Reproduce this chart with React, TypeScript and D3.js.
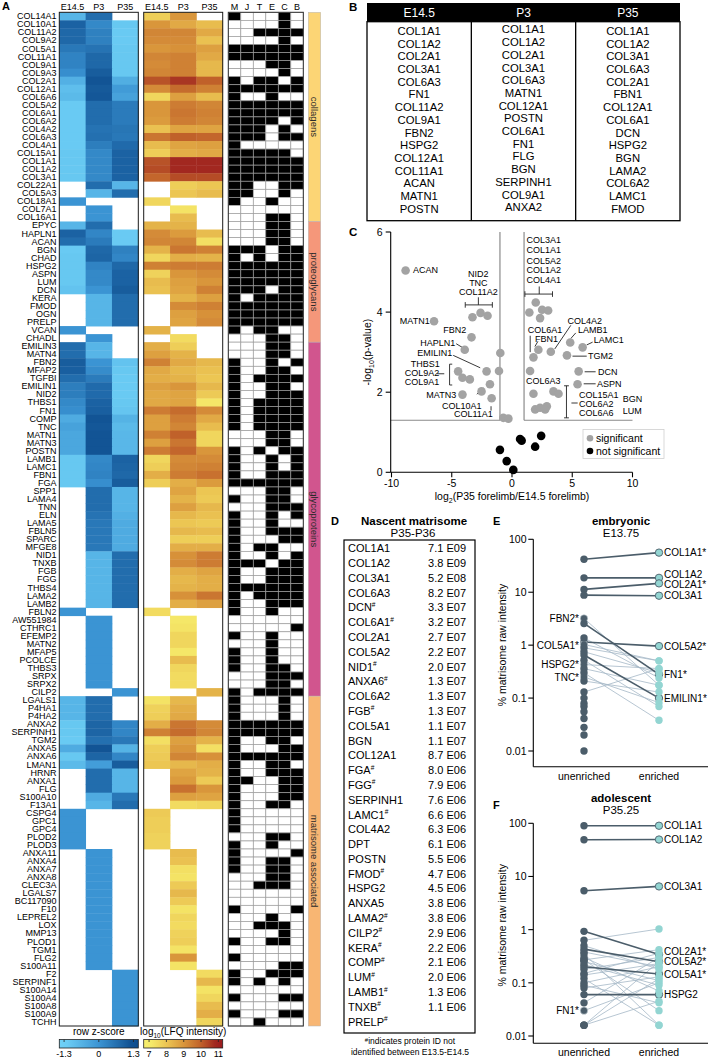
import React from "react";
import * as d3 from "d3";

const FONT = "'Liberation Sans', Arial, Helvetica, sans-serif";
const N = null;

// ---------------- Panel A data ----------------
const stages = ["E14.5", "P3", "P35"];
const sourceCols = ["M", "J", "T", "E", "C", "B"];
const groupNames = ["collagens", "proteoglycans", "glycoproteins", "matrisome associated"];
const groupSizes = [26, 15, 44, 41];

const genes = [
  "COL14A1","COL10A1","COL11A2","COL9A2","COL5A1","COL11A1","COL9A1","COL9A3","COL2A1","COL12A1","COL6A6","COL5A2","COL6A1","COL6A2","COL4A2","COL6A3","COL4A1","COL15A1","COL1A1","COL1A2","COL3A1","COL22A1","COL5A3","COL18A1","COL7A1","COL16A1",
  "EPYC","HAPLN1","ACAN","BGN","CHAD","HSPG2","ASPN","LUM","DCN","KERA","FMOD","OGN","PRELP","VCAN","CHADL",
  "EMILIN3","MATN4","FBN2","MFAP2","TGFBI","EMILIN1","NID2","THBS1","FN1","COMP","TNC","MATN1","MATN3","POSTN","LAMB1","LAMC1","FBN1","FGA","SPP1","LAMA4","TNN","ELN","LAMA5","FBLN5","SPARC","MFGE8","NID1","TNXB","FGB","FGG","THBS4","LAMA2","LAMB2","FBLN2","AW551984","CTHRC1","EFEMP2","MATN2","MFAP5","PCOLCE","THBS3","SRPX","SRPX2","CILP2",
  "LGALS1","P4HA1","P4HA2","ANXA2","SERPINH1","TGM2","ANXA5","ANXA6","LMAN1","HRNR","ANXA1","FLG","S100A10","F13A1","CSPG4","GPC1","GPC4","PLOD2","PLOD3","ANXA11","ANXA4","ANXA7","ANXA8","CLEC3A","LGALS7","BC117090","F10","LEPREL2","LOX","MMP13","PLOD1","TGM1","FLG2","S100A11","F2","SERPINF1","S100A14","S100A4","S100A8","S100A9","TCHH",
];

const zScores: (number | null)[][] = [
  [-0.71,0.71,N],[0.9,0.2,-1.1],[0.8,0.35,-1.15],[0.8,0.35,-1.15],[0.5,0.6,-1.1],[0.3,0.8,-1.1],[0.3,0.8,-1.1],[0.1,1.0,-1.1],[-0.6,1.15,-0.55],[-0.9,1.05,-0.15],[-0.8,1.1,-0.3],[-1.15,0.7,0.45],[-1.15,0.7,0.45],[-1.15,0.7,0.45],[-1.15,0.6,0.55],[-1.15,0.65,0.5],[-1.15,0.4,0.75],[-1.1,0.2,0.9],[-1.1,0.2,0.9],[-1.1,0.2,0.9],[-1.1,0.2,0.9],[N,0.71,-0.71],[N,-0.71,0.71],[0,N,N],[N,0,N],[N,0,N],
  [-0.71,0.71,N],[0.9,0.25,-1.15],[0.7,0.45,-1.15],[-1.15,0.8,0.35],[-1.1,0.85,0.25],[-1.1,0.3,0.8],[-1.1,0.2,0.9],[-1.1,0.2,0.9],[-1.0,0.0,1.0],[N,-0.71,0.71],[N,-0.71,0.71],[N,-0.71,0.71],[N,-0.71,0.71],[0,N,N],[N,0,N],
  [0.71,-0.71,N],[0.71,-0.71,N],[1.0,0.0,-1.0],[0.95,0.15,-1.1],[0.7,0.45,-1.15],[0.4,0.75,-1.15],[0.4,0.75,-1.15],[0.2,0.9,-1.1],[0.1,0.95,-1.05],[-0.5,1.15,-0.65],[-0.3,1.1,-0.8],[-0.4,1.15,-0.75],[-0.4,1.15,-0.75],[-0.4,1.15,-0.75],[-1.1,0.2,0.9],[-1.1,0.25,0.85],[-1.1,0.3,0.8],[-1.1,0.1,1.0],[N,0.71,-0.71],[N,0.71,-0.71],[N,0.71,-0.71],[N,0.6,-0.6],[N,0.5,-0.5],[N,0.5,-0.5],[N,0.5,-0.5],[N,0.5,-0.5],[N,-0.71,0.71],[N,-0.71,0.71],[N,-0.71,0.71],[N,-0.71,0.71],[N,-0.71,0.71],[N,-0.71,0.71],[N,-0.71,0.71],[0,N,N],[N,0,N],[N,0,N],[N,0,N],[N,0,N],[N,0,N],[N,0,N],[N,0,N],[N,0,N],[N,0,N],[N,N,0],
  [-0.71,0.71,N],[-0.71,0.71,N],[-0.71,0.71,N],[-1.1,0.85,0.25],[-1.1,0.85,0.25],[-1.15,0.65,0.5],[-0.5,1.15,-0.65],[-1.1,0.85,0.25],[-0.8,-0.2,1.0],[N,0.71,-0.71],[N,0.71,-0.71],[N,0.71,-0.71],[N,-0.5,0.5],[N,-0.71,0.71],[0,N,N],[0,N,N],[0,N,N],[0,N,N],[0,N,N],[N,0,N],[N,0,N],[N,0,N],[N,0,N],[N,0,N],[N,0,N],[N,0,N],[N,0,N],[N,0,N],[N,0,N],[N,0,N],[N,0,N],[N,0,N],[N,0,N],[N,0,N],[N,N,0],[N,N,0],[N,N,0],[N,N,0],[N,N,0],[N,N,0],[N,N,0],
];

const lfqValues: (number | null)[][] = [
  [7.8,9.0,N],[9.0,8.6,8.2],[9.3,9.3,8.6],[9.2,9.2,8.1],[9.0,9.1,8.8],[9.3,9.4,8.6],[9.2,9.4,8.3],[9.3,9.4,8.3],[10.2,10.6,10.0],[9.2,9.8,9.4],[7.6,8.8,8.2],[9.0,9.5,9.3],[9.0,9.6,9.4],[8.9,9.5,9.3],[8.1,8.7,8.7],[9.6,10.0,9.9],[8.2,8.7,8.8],[7.8,8.5,8.6],[10.2,10.8,10.8],[10.3,10.8,10.8],[9.9,10.3,10.3],[N,7.8,8.0],[N,8.0,8.2],[7.6,N,N],[N,7.3,N],[N,8.2,N],
  [8.4,8.4,N],[9.2,8.9,8.2],[9.3,9.3,7.4],[8.4,9.6,9.4],[7.6,8.5,8.4],[9.4,9.5,9.5],[7.7,9.0,9.2],[8.2,8.8,9.0],[8.1,8.7,9.4],[N,8.4,8.8],[N,9.2,9.4],[N,8.8,9.1],[N,8.7,9.2],[8.4,N,N],[N,7.5,N],
  [8.5,7.8,N],[8.8,8.4,N],[9.4,8.6,8.3],[8.6,8.3,8.1],[8.5,8.4,8.0],[8.8,9.0,8.3],[8.6,8.7,7.9],[8.6,8.7,7.2],[9.5,9.8,9.2],[8.8,9.5,8.6],[8.8,9.3,8.2],[9.4,10.0,7.6],[8.8,9.6,7.6],[9.5,9.9,9.0],[7.6,9.2,9.2],[7.8,9.3,9.4],[8.5,9.5,9.7],[7.8,8.5,8.9],[N,8.7,8.0],[N,8.4,7.9],[N,8.8,8.3],[N,8.3,8.1],[N,8.0,7.9],[N,8.3,8.2],[N,7.8,7.8],[N,8.5,8.5],[N,9.1,9.5],[N,9.2,9.5],[N,8.5,8.7],[N,8.3,8.5],[N,8.4,8.5],[N,9.1,9.6],[N,8.5,8.8],[7.5,N,N],[N,7.2,N],[N,7.3,N],[N,7.6,N],[N,7.6,N],[N,7.2,N],[N,8.2,N],[N,7.6,N],[N,7.5,N],[N,7.5,N],[N,N,8.4],
  [7.3,8.3,N],[7.7,8.5,N],[7.8,8.6,N],[8.5,9.6,9.2],[9.4,9.8,9.3],[7.4,8.8,8.4],[7.8,9.0,7.4],[7.9,9.3,9.1],[8.0,8.3,8.5],[N,8.7,8.4],[N,8.9,7.9],[N,9.7,9.0],[N,8.8,8.7],[N,7.5,7.6],[7.9,N,N],[7.8,N,N],[7.8,N,N],[7.7,N,N],[7.7,N,N],[N,8.2,N],[N,8.1,N],[N,7.4,N],[N,7.3,N],[N,7.9,N],[N,8.3,N],[N,7.9,N],[N,7.3,N],[N,7.6,N],[N,7.5,N],[N,7.7,N],[N,7.8,N],[N,7.3,N],[N,9.0,N],[N,7.3,N],[N,N,7.5],[N,N,8.3],[N,N,7.3],[N,N,7.6],[N,N,8.2],[N,N,8.5],[N,N,7.6],
];

// presence in M J T E C B
const sourceFlags = [
  "100010","000010","001111","000010","111111","111111","000110","000010","101101","111111","100100","111111","111111","111101","111010","111011","100000","111110","111111","111111","111111","110011","110010","100100","000000","000110",
  "000110","000110","000110","111011","101011","111111","111111","111111","111011","101111","111111","111111","111111","101100","000110",
  "000110","000110","100101","100110","101111","100110","100111","101111","101111","101111","101111","000110","000110","101011","100101","100101","100111","111111","000110","100110","000111","100101","100100","100111","100011","101100","100101","111011","100111","100111","111111","101111","100111","100100","000000","000001","100100","000100","100100","100100","100110","000111","000110","101111",
  "100010","100010","100010","111111","111111","100110","100011","111111","100110","100111","110011","100011","100011","100110","100000","100000","100000","000110","100100","100001","100110","100110","000110","001110","000000","000000","100001","000100","001110","000010","100110","000000","100000","000011","100111","101010","000000","100011","000000","100011","001000",
];

// ---------------- Panel B data ----------------
const topE145 = ["COL1A1","COL1A2","COL2A1","COL3A1","COL6A3","FN1","COL11A2","COL9A1","FBN2","HSPG2","COL12A1","COL11A1","ACAN","MATN1","POSTN"];
const topP3 = ["COL1A1","COL1A2","COL2A1","COL3A1","COL6A3","MATN1","COL12A1","POSTN","COL6A1","FN1","FLG","BGN","SERPINH1","COL9A1","ANXA2"];
const topP35 = ["COL1A1","COL1A2","COL3A1","COL6A3","COL2A1","FBN1","COL12A1","COL6A1","DCN","HSPG2","BGN","LAMA2","COL6A2","LAMC1","FMOD"];

// ---------------- Panel C data ----------------
const volcanoSignificant: [number, number][] = [
  [-8.83,5.04],[-3.28,3.87],[-2.61,3.98],[-2.03,3.91],[-6.47,3.77],[-3.36,3.37],[-3.92,3.06],[-0.97,2.98],[-1.08,2.53],[-2.11,2.52],[-4.47,2.52],[-4.11,2.36],[-3.5,2.32],[-1.83,2.2],[-2.53,2.02],[-4.11,1.94],[-1.69,1.85],[-0.72,1.36],[-0.3,1.34],
  [1.97,4.24],[1.44,3.99],[2.5,4.06],[2.33,3.85],[3.0,4.04],[1.78,2.87],[2.19,3.06],[3.22,3.01],[4.83,3.24],[5.86,3.12],[4.56,2.92],[1.5,2.53],[5.53,2.52],[5.44,2.2],[1.78,1.96],[3.44,2.02],[3.86,1.96],[1.92,1.57],[2.33,1.61],[2.89,1.65],[2.75,1.57],
];
const volcanoNotSignificant: [number, number][] = [
  [2.42,0.91],[0.67,0.83],[0.8,0.79],[1.92,0.64],[-1.0,0.56],[-0.44,0.28],[0.11,0.06],
];
const volcanoLabels: [string, number, number, string][] = [
  ["ACAN",-8.22,5.04,"start"],["NID2",-2.79,4.96,"middle"],["TNC",-2.79,4.73,"middle"],["COL11A2",-2.79,4.49,"middle"],
  ["MATN1",-6.83,3.77,"end"],["FBN2",-3.8,3.55,"end"],["HAPLN1",-4.71,3.24,"end"],["EMILIN1",-4.96,2.98,"end"],
  ["THBS1",-7.19,2.70,"middle"],["COL9A2",-7.46,2.48,"middle"],["COL9A1",-7.46,2.26,"middle"],["MATN3",-4.63,1.94,"end"],
  ["COL10A1",-4.16,1.65,"middle"],["COL11A1",-3.2,1.45,"middle"],
  ["COL3A1",1.21,5.79,"start"],["COL1A1",1.21,5.54,"start"],["COL5A2",1.21,5.28,"start"],["COL1A2",1.21,5.04,"start"],["COL4A1",1.21,4.79,"start"],
  ["COL6A1",1.3,3.55,"start"],["FBN1",1.9,3.32,"start"],["COL4A2",4.6,3.77,"start"],["LAMB1",5.48,3.55,"start"],["LAMC1",6.78,3.31,"start"],
  ["TGM2",6.31,2.90,"start"],["DCN",7.13,2.51,"start"],["ASPN",7.05,2.21,"start"],["COL6A3",1.16,2.29,"start"],
  ["COL15A1",5.56,1.94,"start"],["COL6A2",5.56,1.71,"start"],["COL6A6",5.56,1.47,"start"],["BGN",9.2,1.83,"start"],["LUM",9.2,1.54,"start"],
];
const volcanoLeaders: [number, number, number, number][] = [
  [-3.88,4.18,-1.63,4.18],[-3.88,4.25,-3.88,4.11],[-1.63,4.25,-1.63,4.11],[-2.79,4.37,-2.79,4.18],
  [-4.63,3.21,-4.13,3.12],[-4.88,2.92,-2.64,2.61],
  [-6.2,2.46,-5.62,2.46],[-5.18,2.70,-5.18,2.18],[-5.18,2.70,-4.96,2.70],[-5.18,2.18,-4.96,2.18],
  [-2.92,1.95,-2.37,2.10],[-1.74,1.65,-1.74,1.54],
  [1.07,4.45,3.36,4.45],[1.07,4.52,1.07,4.38],[3.36,4.52,3.36,4.38],[2.26,4.64,2.26,4.45],
  [1.51,3.41,1.51,3.0],[2.15,3.27,1.9,3.14],
  [4.88,3.67,3.55,3.08],[5.29,3.48,4.88,3.34],[6.69,3.25,6.2,3.18],
  [5.02,2.90,6.2,2.90],[6.03,2.51,6.94,2.51],[5.95,2.21,6.94,2.21],
  [4.52,2.16,4.52,1.36],[4.32,2.16,4.72,2.16],[4.32,1.36,4.72,1.36],[4.93,1.73,5.45,1.73],
];

// ---------------- Panel D data ----------------
const nascentNames = ["COL1A1","COL1A2","COL3A1","COL6A3","DCN#","COL6A1#","COL2A1","COL5A2","NID1#","ANXA6#","COL6A2","FGB#","COL5A1","BGN","COL12A1","FGA#","FGG#","SERPINH1","LAMC1#","COL4A2","DPT","POSTN","FMOD#","HSPG2","ANXA5","LAMA2#","CILP2#","KERA#","COMP#","LUM#","LAMB1#","TNXB#","PRELP#"];
const nascentIntensity: (number | null)[] = [7.1e9,3.8e9,5.2e8,8.2e7,3.3e7,3.2e7,2.7e7,2.2e7,2.0e7,1.3e7,1.3e7,1.3e7,1.1e7,1.1e7,8.7e6,8.0e6,7.9e6,7.6e6,6.6e6,6.3e6,6.1e6,5.5e6,4.7e6,4.5e6,3.8e6,3.8e6,2.9e6,2.2e6,2.1e6,2.0e6,1.3e6,1.1e6,null];

// ---------------- Panel E / F data ----------------
// [name, unenriched %, enriched %, label side, highlighted]
const embryonicPairs: [string, number, number | null, string, boolean][] = [
  ["COL1A1*",42,56,"e",true],["COL1A2",18.7,18.7,"e",true],["COL2A1*",11.3,14.7,"e",true],["COL3A1",8.8,8.6,"e",true],
  ["FBN2*",3.2,0.175,"u",false],["FN1*",2.57,0.28,"e",true],["COL5A2*",1.15,0.96,"e",true],["COL5A1*",1.03,0.505,"u",false],
  ["EMILIN1*",0.65,0.10,"e",true],["HSPG2*",0.43,0.36,"u",false],["TNC*",0.25,0.082,"u",false],
  ["",1.37,0.24,"",false],["",0.89,0.505,"",false],["",0.75,0.30,"",false],["",0.52,0.069,"",false],["",0.36,0.175,"",false],
  ["",0.30,0.038,"",false],["",0.13,0.36,"",false],["",0.21,0.13,"",false],
  ["",0.10,null,"",false],["",0.079,null,"",false],["",0.069,null,"",false],["",0.055,null,"",false],["",0.041,null,"",false],["",0.028,null,"",false],["",0.020,null,"",false],["",0.010,null,"",false],
];
const adolescentPairs: [string, number, number | null, string, boolean][] = [
  ["COL1A1",90,90,"e",true],["COL1A2",49,49.5,"e",true],["COL3A1",5.4,6.5,"e",true],
  ["COL2A1*",0.93,0.34,"e",true],["COL5A2*",0.43,0.25,"e",true],["COL5A1*",0.2,0.147,"e",true],["HSPG2",0.06,0.06,"e",true],
  ["FN1*",0.03,0.1,"u",false],
  ["",0.63,1.03,"",false],["",0.27,0.42,"",false],["",0.15,0.36,"",false],["",0.10,0.2,"",false],["",0.042,0.3,"",false],
  ["",0.016,0.25,"",false],["",0.016,0.12,"",false],["",0.016,0.045,"",false],["",0.35,0.016,"",false],["",0.27,0.03,"",false],
  ["",0.12,0.016,"",false],["",0.09,0.042,"",false],["",0.5,0.18,"",false],["",0.22,0.09,"",false],["",0.18,0.3,"",false],
  ["",0.08,0.13,"",false],["",0.3,0.07,"",false],["",0.14,0.23,"",false],["",0.25,0.11,"",false],["",0.38,0.2,"",false],
];

// ---------------------------------------------------------------------
const zColor = d3.scaleLinear<string>().domain([-1.3, 0, 1.3]).range(["#6fd1f7", "#3b94d3", "#0d4c8d"]).clamp(true);
const lfqColor = d3.scaleLinear<string>().domain([7, 8, 9, 10, 11]).range(["#f7ef6d", "#ecc653", "#d9963b", "#c0612a", "#9a1a1e"]).clamp(true);
const groupColors = ["#fcd575", "#f5977a", "#d1558e", "#f8b673"];

function PanelA() {
  const rowY = d3.scaleBand<number>().domain(d3.range(genes.length)).range([12.3, 1026]);
  const bw = rowY.bandwidth();
  const xZ = d3.scaleBand<string>().domain(stages).range([59.3, 138.3]);
  const xL = d3.scaleBand<string>().domain(stages).range([143.7, 222.7]);
  const xS = d3.scaleBand<string>().domain(sourceCols).range([228.3, 303.3]);
  const starts = d3.cumsum([0, ...groupSizes]);
  const top = rowY(0)!;
  const bottom = rowY(genes.length - 1)! + bw;
  const zBar = d3.scaleLinear().domain([-1.48, 1.48]).range([59.3, 138.3]);
  const lBar = d3.scaleLinear().domain([6.69, 11.25]).range([143.7, 222.7]);

  return (
    <g>
      <text x={2} y={10} fontSize={11} fontWeight="bold">A</text>
      {stages.map((s) => (
        <text key={"hz" + s} x={xZ(s)! + xZ.bandwidth() / 2} y={9.6} fontSize={9} textAnchor="middle">{s}</text>
      ))}
      {stages.map((s) => (
        <text key={"hl" + s} x={xL(s)! + xL.bandwidth() / 2} y={9.6} fontSize={9} textAnchor="middle">{s}</text>
      ))}
      {sourceCols.map((s) => (
        <text key={"hs" + s} x={xS(s)! + xS.bandwidth() / 2} y={9.6} fontSize={9} textAnchor="middle">{s}</text>
      ))}
      {genes.map((g, i) => (
        <text key={"g" + i} x={56.5} y={rowY(i)! + bw / 2} fontSize={9} textAnchor="end" dominantBaseline="central">{g}</text>
      ))}
      {zScores.map((row, i) =>
        row.map((v, j) =>
          v === null ? null : (
            <rect key={`z${i}-${j}`} x={xZ(stages[j])!} y={rowY(i)!} width={xZ.bandwidth() + 0.4} height={bw + 0.4} fill={zColor(v)} />
          )
        )
      )}
      {lfqValues.map((row, i) =>
        row.map((v, j) =>
          v === null ? null : (
            <rect key={`l${i}-${j}`} x={xL(stages[j])!} y={rowY(i)!} width={xL.bandwidth() + 0.4} height={bw + 0.4} fill={lfqColor(v)} />
          )
        )
      )}
      {sourceFlags.map((f, i) =>
        sourceCols.map((c, j) => (
          <rect key={`s${i}-${j}`} x={xS(c)!} y={rowY(i)!} width={xS.bandwidth()} height={bw}
            fill={f[j] === "1" ? "#000" : "#fff"} stroke="#9c9c9c" strokeWidth={0.7} />
        ))
      )}
      {starts.slice(1, -1).map((s, k) => (
        <g key={"sep" + k}>
          <line x1={59.3} x2={138.3} y1={rowY(s)!} y2={rowY(s)!} stroke="#7d7d7d" strokeWidth={1.3} />
          <line x1={143.7} x2={222.7} y1={rowY(s)!} y2={rowY(s)!} stroke="#7d7d7d" strokeWidth={1.3} />
          <line x1={228.3} x2={303.3} y1={rowY(s)!} y2={rowY(s)!} stroke="#555" strokeWidth={1.3} />
        </g>
      ))}
      <rect x={59.3} y={top} width={79} height={bottom - top} fill="none" stroke="#1a1a1a" strokeWidth={1} />
      <rect x={143.7} y={top} width={79} height={bottom - top} fill="none" stroke="#1a1a1a" strokeWidth={1} />
      <rect x={228.3} y={top} width={75} height={bottom - top} fill="none" stroke="#333" strokeWidth={1} />
      {groupNames.map((name, k) => {
        const y0 = rowY(starts[k])!;
        const y1 = rowY(starts[k + 1] - 1)! + bw;
        return (
          <g key={"grp" + k}>
            <rect x={308.3} y={y0} width={12.4} height={y1 - y0} fill={groupColors[k]} stroke="#b5b5b5" strokeWidth={0.5} />
            <text transform={`translate(${314.5},${(y0 + y1) / 2}) rotate(90)`} fontSize={9.5} textAnchor="middle" dominantBaseline="central" fill="#2a2a2a">{name}</text>
          </g>
        );
      })}
      <defs>
        <linearGradient id="zgrad" x1="0" x2="1" y1="0" y2="0">
          {d3.range(0, 1.0001, 0.1).map((t) => (
            <stop key={"zs" + t} offset={t} stopColor={zColor(-1.48 + t * 2.96)} />
          ))}
        </linearGradient>
        <linearGradient id="lgrad" x1="0" x2="1" y1="0" y2="0">
          {d3.range(0, 1.0001, 0.1).map((t) => (
            <stop key={"ls" + t} offset={t} stopColor={lfqColor(6.69 + t * 4.56)} />
          ))}
        </linearGradient>
      </defs>
      <text x={98.8} y={1035} fontSize={10} textAnchor="middle">row z-score</text>
      <text x={183.2} y={1035} fontSize={10} textAnchor="middle">
        log<tspan fontSize={6.5} dy={2.5}>10</tspan><tspan dy={-2.5}>(LFQ intensity)</tspan>
      </text>
      <rect x={59.3} y={1039.6} width={79} height={8.4} fill="url(#zgrad)" stroke="#222" strokeWidth={0.8} />
      <rect x={143.7} y={1039.6} width={79} height={8.4} fill="url(#lgrad)" stroke="#222" strokeWidth={0.8} />
      {[-1.3, 0, 1.3].map((t) => (
        <g key={"zt" + t}>
          <line x1={zBar(t)} x2={zBar(t)} y1={1039.6} y2={1042} stroke="#222" strokeWidth={0.8} />
          <text x={zBar(t)} y={1057} fontSize={9} textAnchor="middle">{t}</text>
        </g>
      ))}
      {[7, 8, 9, 10, 11].map((t) => (
        <g key={"lt" + t}>
          <line x1={lBar(t)} x2={lBar(t)} y1={1039.6} y2={1042} stroke="#222" strokeWidth={0.8} />
          <text x={lBar(t)} y={1057} fontSize={9} textAnchor="middle">{t}</text>
        </g>
      ))}
    </g>
  );
}

function PanelB() {
  const cols = [topE145, topP3, topP35];
  const x = d3.scaleBand<string>().domain(stages).range([367, 680]);
  const y = d3.scaleBand<number>().domain(d3.range(15)).range([24.6, 215.1]);
  return (
    <g>
      <text x={349} y={11} fontSize={11.5} fontWeight="bold">B</text>
      <rect x={367} y={3} width={313} height={18.7} fill="#000" />
      {stages.map((s) => (
        <text key={"bh" + s} x={x(s)! + x.bandwidth() / 2} y={12.6} fontSize={12} fill="#fff" textAnchor="middle" dominantBaseline="central">{s}</text>
      ))}
      <rect x={367} y={21.7} width={313} height={199} fill="none" stroke="#000" strokeWidth={1.3} />
      {stages.slice(1).map((s) => (
        <line key={"bd" + s} x1={x(s)!} x2={x(s)!} y1={21.7} y2={220.7} stroke="#000" strokeWidth={1.3} />
      ))}
      {cols.map((list, j) =>
        list.map((g, i) => (
          <text key={`b${j}-${i}`} x={x(stages[j])! + x.bandwidth() / 2} y={y(i)! + y.bandwidth() / 2 + (j === 1 ? -1.5 : 0)}
            fontSize={11.3} textAnchor="middle" dominantBaseline="central">{g}</text>
        ))
      )}
    </g>
  );
}

function PanelC() {
  const x = d3.scaleLinear().domain([-10, 10]).range([391.5, 632.5]);
  const y = d3.scaleLinear().domain([0, 6]).range([472.3, 232]);
  const thr = 1.3;
  const axX = 390.7;
  return (
    <g>
      <text x={349} y={236} fontSize={11.5} fontWeight="bold">C</text>
      <g stroke="#8a8a8a" strokeWidth={1.2}>
        <line x1={axX} x2={x(-1)} y1={y(thr)} y2={y(thr)} />
        <line x1={x(-1)} x2={x(-1)} y1={y(thr)} y2={y(6)} />
        <line x1={x(1)} x2={x(10)} y1={y(thr)} y2={y(thr)} />
        <line x1={x(1)} x2={x(1)} y1={y(thr)} y2={y(6)} />
      </g>
      <line x1={axX} x2={axX} y1={y(6)} y2={y(0)} stroke="#000" strokeWidth={1.1} />
      <line x1={axX} x2={x(10)} y1={y(0)} y2={y(0)} stroke="#000" strokeWidth={1.1} />
      {[0, 2, 4, 6].map((t) => (
        <g key={"cy" + t}>
          <line x1={axX - 5} x2={axX} y1={y(t)} y2={y(t)} stroke="#000" strokeWidth={1.1} />
          <text x={axX - 8} y={y(t)} fontSize={10.5} textAnchor="end" dominantBaseline="central">{t}</text>
        </g>
      ))}
      {[-10, -5, 0, 5, 10].map((t) => (
        <g key={"cx" + t}>
          <line x1={x(t)} x2={x(t)} y1={y(0)} y2={y(0) + 5} stroke="#000" strokeWidth={1.1} />
          <text x={x(t)} y={y(0) + 15} fontSize={10.5} textAnchor="middle">{t}</text>
        </g>
      ))}
      <text transform={`translate(371,${y(3)}) rotate(-90)`} fontSize={10.5} textAnchor="middle">
        -log<tspan fontSize={7} dy={2.5}>10</tspan><tspan dy={-2.5}>(p-value)</tspan>
      </text>
      <text x={x(0)} y={500} fontSize={10.5} textAnchor="middle">
        log<tspan fontSize={7} dy={2.5}>2</tspan><tspan dy={-2.5}>(P35 forelimb/E14.5 forelimb)</tspan>
      </text>
      <g stroke="#222" strokeWidth={0.9}>
        {volcanoLeaders.map((l, i) => (
          <line key={"ld" + i} x1={x(l[0])} y1={y(l[1])} x2={x(l[2])} y2={y(l[3])} />
        ))}
      </g>
      {volcanoNotSignificant.map((p, i) => (
        <circle key={"ns" + i} cx={x(p[0])} cy={y(p[1])} r={4.3} fill="#000" />
      ))}
      {volcanoSignificant.map((p, i) => (
        <circle key={"sg" + i} cx={x(p[0])} cy={y(p[1])} r={4.3} fill="#a3a3a3" />
      ))}
      {volcanoLabels.map((l, i) => (
        <text key={"vl" + i} x={x(l[1])} y={y(l[2])} fontSize={9} textAnchor={l[3] as any} dominantBaseline="central">{l[0]}</text>
      ))}
      <rect x={583} y={429.5} width={81} height={29} fill="#fff" stroke="#cfcfcf" strokeWidth={0.8} />
      <circle cx={590} cy={438.3} r={3.3} fill="#a3a3a3" />
      <text x={596} y={438.3} fontSize={10.5} dominantBaseline="central">significant</text>
      <circle cx={590} cy={451} r={3.3} fill="#000" />
      <text x={596} y={451} fontSize={10.5} dominantBaseline="central">not significant</text>
    </g>
  );
}

function PanelD() {
  const y = d3.scaleBand<number>().domain(d3.range(nascentNames.length)).range([540.9, 1029]);
  const fmt = (v: number) => {
    const e = Math.floor(Math.log10(v));
    const m = v / Math.pow(10, e);
    return `${m.toFixed(1)} E${String(e).padStart(2, "0")}`;
  };
  return (
    <g>
      <text x={331} y={524.5} fontSize={11} fontWeight="bold">D</text>
      <text x={414} y={524.8} fontSize={11.5} fontWeight="bold" textAnchor="middle">Nascent matrisome</text>
      <text x={413} y={537.4} fontSize={11.5} textAnchor="middle">P35-P36</text>
      <rect x={344} y={540} width={131} height={493} fill="none" stroke="#000" strokeWidth={1.2} />
      {nascentNames.map((n, i) => {
        const novel = n.endsWith("#");
        const cy = y(i)! + y.bandwidth() / 2;
        return (
          <g key={"d" + i}>
            <text x={348} y={cy} fontSize={11} dominantBaseline="central">
              {novel ? n.slice(0, -1) : n}
              {novel ? <tspan fontSize={6.5} dy={-3.5}>#</tspan> : null}
            </text>
            {nascentIntensity[i] !== null ? (
              <text x={466} y={cy} fontSize={11} textAnchor="end" dominantBaseline="central">{fmt(nascentIntensity[i] as number)}</text>
            ) : null}
          </g>
        );
      })}
      <text x={410} y={1044} fontSize={8.5} textAnchor="middle">
        <tspan fontSize={6} dy={-2.5}>#</tspan><tspan dy={2.5}>indicates protein ID not</tspan>
      </text>
      <text x={410} y={1055} fontSize={8.5} textAnchor="middle">identified between E13.5-E14.5</text>
    </g>
  );
}

function PairPanel(props: {
  label: string; title: string; subtitle: string; pairs: [string, number, number | null, string, boolean][];
  top: number; y1: number; axisY: number; titleY: number; labelY: number; labelDy: Record<string, number>;
}) {
  const { label, title, subtitle, pairs, top, y1, axisY, titleY, labelY, labelDy } = props;
  const y = d3.scaleLog().domain([0.01, 100]).range([y1, top]);
  const x = d3.scalePoint<string>().domain(["unenriched", "enriched"]).range([584, 659]);
  const xu = x("unenriched")!;
  const xe = x("enriched")!;
  const dark = "#4b5d6a";
  const teal = "#93d5d2";
  const ticks = [100, 10, 1, 0.1, 0.01];
  const thin = pairs.filter((p) => p[2] !== null && !p[4]);
  const thick = pairs.filter((p) => p[2] !== null && p[4]);
  return (
    <g>
      <text x={493} y={labelY} fontSize={11} fontWeight="bold">{label}</text>
      <text x={621} y={titleY} fontSize={11.5} fontWeight="bold" textAnchor="middle">{title}</text>
      <text x={621} y={titleY + 12} fontSize={11.5} textAnchor="middle">{subtitle}</text>
      <line x1={533.3} x2={533.3} y1={top} y2={axisY} stroke="#000" strokeWidth={1.1} />
      <line x1={533.3} x2={708} y1={axisY} y2={axisY} stroke="#000" strokeWidth={1.1} />
      {ticks.map((t) => (
        <g key={label + "t" + t}>
          <line x1={528.3} x2={533.3} y1={y(t)} y2={y(t)} stroke="#000" strokeWidth={1.1} />
          <text x={526.5} y={y(t)} fontSize={10.5} textAnchor="end" dominantBaseline="central">{String(t)}</text>
        </g>
      ))}
      <text transform={`translate(506,${(top + axisY) / 2 - 8}) rotate(-90)`} fontSize={10.5} textAnchor="middle">% matrisome raw intensity</text>
      <text x={xu} y={axisY + 13} fontSize={10.5} textAnchor="middle">unenriched</text>
      <text x={xe} y={axisY + 13} fontSize={10.5} textAnchor="middle">enriched</text>
      {thin.map((p, i) => (
        <line key={label + "th" + i} x1={xu} x2={xe} y1={y(p[1])} y2={y(p[2] as number)} stroke="#a4b8c6" strokeWidth={0.8} />
      ))}
      {thick.map((p, i) => (
        <line key={label + "tk" + i} x1={xu} x2={xe} y1={y(p[1])} y2={y(p[2] as number)} stroke={dark} strokeWidth={1.6} />
      ))}
      {pairs.map((p, i) => (
        <circle key={label + "u" + i} cx={xu} cy={y(p[1])} r={3.7} fill={dark} stroke={p[3] === "u" ? "#cfd8de" : "none"} strokeWidth={0.6} />
      ))}
      {pairs.filter((p) => p[2] !== null).map((p, i) => (
        <circle key={label + "e" + i} cx={xe} cy={y(p[2] as number)} r={3.7} fill={teal}
          stroke={p[3] === "e" ? dark : "none"} strokeWidth={0.9} />
      ))}
      {pairs.filter((p) => p[3] === "e").map((p, i) => (
        <text key={label + "le" + i} x={xe + 5} y={y(p[2] as number) + (labelDy[p[0]] || 0)} fontSize={10} dominantBaseline="central">{p[0]}</text>
      ))}
      {pairs.filter((p) => p[3] === "u").map((p, i) => (
        <text key={label + "lu" + i} x={xu - 5} y={y(p[1]) + (labelDy[p[0]] || 0)} fontSize={10} textAnchor="end" dominantBaseline="central">{p[0]}</text>
      ))}
    </g>
  );
}

export default function App() {
  return (
    <svg width={710} height={1058} viewBox="0 0 710 1058" style={{ position: "absolute", left: 0, top: 0, background: "#fff" }} fontFamily={FONT}>
      <rect width={710} height={1058} fill="#fff" />
      <PanelA />
      <PanelB />
      <PanelC />
      <PanelD />
      <PairPanel label="E" title="embryonic" subtitle="E13.75" pairs={embryonicPairs} top={539.3} y1={751} axisY={766.7} titleY={524.8} labelY={524.8}
        labelDy={{ "COL1A2": -3.5, "COL2A1*": 1.5, "FBN2*": 0, "COL5A1*": 1 }} />
      <PairPanel label="F" title="adolescent" subtitle="P35.25" pairs={adolescentPairs} top={823.3} y1={1036} axisY={1043.3} titleY={802.4} labelY={808.5}
        labelDy={{ "COL2A1*": -3, "COL5A2*": 0, "COL5A1*": 1 }} />
    </svg>
  );
}
